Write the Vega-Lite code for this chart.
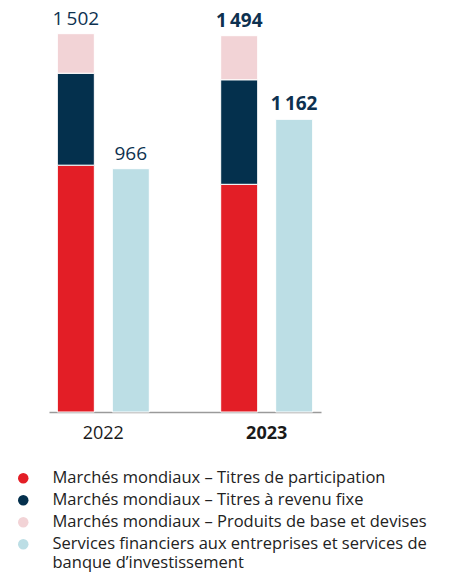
{
  "$schema": "https://vega.github.io/schema/vega-lite/v6.json",
  "width": 272,
  "height": 403,
  "autosize": {"type": "none"},
  "padding": {"left": 49, "top": 9, "right": 133, "bottom": 160},
  "config": {"view": {"stroke": null}, "font": "Open Sans"},
  "datasets": {
    "bars": [
      {"year": "2022", "bar": "A", "series": "Marchés mondiaux – Titres de participation", "value": 980},
      {"year": "2022", "bar": "A", "series": "Marchés mondiaux – Titres à revenu fixe", "value": 365},
      {"year": "2022", "bar": "A", "series": "Marchés mondiaux – Produits de base et devises", "value": 157},
      {"year": "2022", "bar": "B", "series": "Services financiers aux entreprises et services de banque d’investissement", "value": 966},
      {"year": "2023", "bar": "A", "series": "Marchés mondiaux – Titres de participation", "value": 904},
      {"year": "2023", "bar": "A", "series": "Marchés mondiaux – Titres à revenu fixe", "value": 415},
      {"year": "2023", "bar": "A", "series": "Marchés mondiaux – Produits de base et devises", "value": 175},
      {"year": "2023", "bar": "B", "series": "Services financiers aux entreprises et services de banque d’investissement", "value": 1162}
    ],
    "labels": [
      {"year": "2022", "bar": "A", "total": 1502, "label": "1\u2009502"},
      {"year": "2022", "bar": "B", "total": 966, "label": "966"},
      {"year": "2023", "bar": "A", "total": 1494, "label": "1\u2009494"},
      {"year": "2023", "bar": "B", "total": 1162, "label": "1\u2009162"}
    ]
  },
  "encoding": {
    "x": {
      "field": "year",
      "type": "nominal",
      "title": null,
      "scale": {"paddingInner": 0.437, "paddingOuter": 0.051},
      "axis": {
        "labelAngle": 0,
        "ticks": false,
        "domainColor": "#9a9a9a",
        "domainWidth": 1.5,
        "labelPadding": 12,
        "labelFontSize": 18,
        "labelColor": "#1a1a1a",
        "labelFontWeight": {"condition": {"test": "datum.value == '2023'", "value": "bold"}, "value": "normal"}
      }
    },
    "xOffset": {"field": "bar", "type": "nominal", "scale": {"paddingInner": 0.327, "paddingOuter": 0}}
  },
  "layer": [
    {
      "data": {"name": "bars"},
      "transform": [
        {"calculate": "indexof(['Marchés mondiaux – Titres de participation','Marchés mondiaux – Titres à revenu fixe','Marchés mondiaux – Produits de base et devises','Services financiers aux entreprises et services de banque d’investissement'], datum.series)", "as": "k"}
      ],
      "mark": {"type": "bar", "stroke": "white", "strokeWidth": 1},
      "encoding": {
        "y": {"field": "value", "type": "quantitative", "stack": "zero", "scale": {"domain": [0, 1600]}, "axis": null},
        "order": {"field": "k", "type": "quantitative"},
        "color": {
          "field": "series",
          "type": "nominal",
          "scale": {
            "domain": [
              "Marchés mondiaux – Titres de participation",
              "Marchés mondiaux – Titres à revenu fixe",
              "Marchés mondiaux – Produits de base et devises",
              "Services financiers aux entreprises et services de banque d’investissement"
            ],
            "range": ["#e31e26", "#04304d", "#f2d3d6", "#bcdee5"]
          },
          "legend": {
            "title": null,
            "orient": "none",
            "legendX": -34,
            "legendY": 461,
            "symbolType": "circle",
            "symbolSize": 110,
            "symbolStrokeWidth": 0,
            "labelFontSize": 16.5,
            "labelColor": "#222222",
            "labelOffset": 21,
            "labelLimit": 0,
            "labelLineHeight": 20,
            "rowPadding": 5,
            "labelExpr": "datum.label == 'Services financiers aux entreprises et services de banque d’investissement' ? ['Services financiers aux entreprises et services de', 'banque d’investissement'] : datum.label"
          }
        }
      }
    },
    {
      "data": {"name": "labels"},
      "transform": [{"filter": "datum.year == '2022'"}],
      "mark": {"type": "text", "baseline": "alphabetic", "dy": -9, "fontSize": 19, "color": "#0d3150"},
      "encoding": {
        "y": {"field": "total", "type": "quantitative", "axis": null},
        "text": {"field": "label"}
      }
    },
    {
      "data": {"name": "labels"},
      "transform": [{"filter": "datum.year == '2023'"}],
      "mark": {"type": "text", "baseline": "alphabetic", "dy": -9, "fontSize": 19, "fontWeight": "bold", "color": "#0d3150"},
      "encoding": {
        "y": {"field": "total", "type": "quantitative", "axis": null},
        "text": {"field": "label"}
      }
    }
  ]
}
